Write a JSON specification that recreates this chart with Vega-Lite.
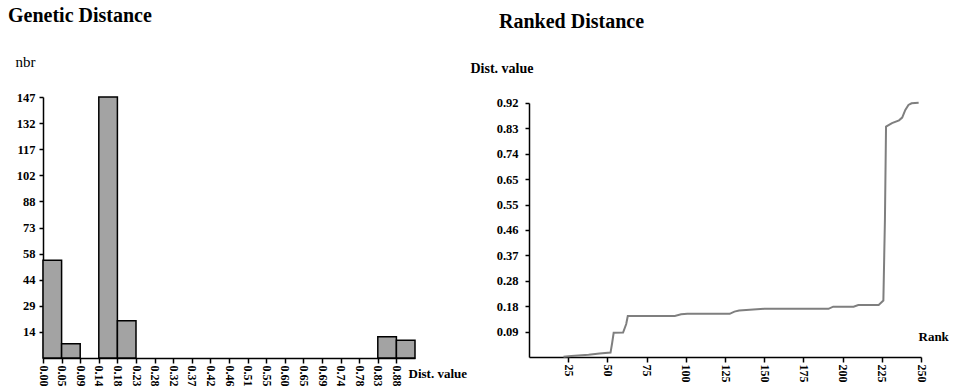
{
  "$schema": "https://vega.github.io/schema/vega-lite/v6.json",
  "padding": {"left": 8, "top": 5, "right": 0, "bottom": 0},
  "background": "white",
  "spacing": 3,
  "config": {
    "view": {"stroke": null},
    "font": "Liberation Serif",
    "axis": {
      "grid": false,
      "domainColor": "black",
      "domainWidth": 1.5,
      "tickColor": "black",
      "tickWidth": 1.5,
      "labelColor": "black",
      "labelFont": "Liberation Serif",
      "labelFontWeight": "bold",
      "labelFontSize": 12,
      "labelOverlap": false,
      "titleFont": "Liberation Serif",
      "titleColor": "black",
      "titleFontSize": 13,
      "titleFontWeight": "bold"
    },
    "title": {"font": "Liberation Serif", "fontSize": 20, "fontWeight": "bold", "color": "black", "anchor": "start", "frame": "group"}
  },
  "datasets": {
    "hist": [
      {"start": 0, "end": 0.04615, "count": 55},
      {"start": 0.04615, "end": 0.0923, "count": 8},
      {"start": 0.13845, "end": 0.1846, "count": 147},
      {"start": 0.1846, "end": 0.23075, "count": 21},
      {"start": 0.8307, "end": 0.87685, "count": 12},
      {"start": 0.87685, "end": 0.923, "count": 10}
    ],
    "ranked": [
      {"rank": 22, "value": 0.001},
      {"rank": 27, "value": 0.004},
      {"rank": 38, "value": 0.008},
      {"rank": 45, "value": 0.013},
      {"rank": 52, "value": 0.016},
      {"rank": 53, "value": 0.05},
      {"rank": 54, "value": 0.088},
      {"rank": 60, "value": 0.089},
      {"rank": 62, "value": 0.12},
      {"rank": 63, "value": 0.149},
      {"rank": 93, "value": 0.149},
      {"rank": 97, "value": 0.155},
      {"rank": 101, "value": 0.157},
      {"rank": 128, "value": 0.157},
      {"rank": 131, "value": 0.165},
      {"rank": 134, "value": 0.169},
      {"rank": 150, "value": 0.175},
      {"rank": 191, "value": 0.175},
      {"rank": 194, "value": 0.183},
      {"rank": 207, "value": 0.183},
      {"rank": 210, "value": 0.189},
      {"rank": 223, "value": 0.189},
      {"rank": 226, "value": 0.205},
      {"rank": 227, "value": 0.5},
      {"rank": 227.7, "value": 0.837},
      {"rank": 231.5, "value": 0.85},
      {"rank": 236, "value": 0.86},
      {"rank": 238, "value": 0.87},
      {"rank": 240, "value": 0.898},
      {"rank": 242, "value": 0.916},
      {"rank": 244, "value": 0.922},
      {"rank": 248.5, "value": 0.924}
    ]
  },
  "hconcat": [
    {
      "width": 372,
      "height": 261,
      "title": {"text": "Genetic Distance", "dx": -35, "offset": 28.5},
      "data": {"name": "hist"},
      "mark": {"type": "bar", "fill": "#a3a3a3", "stroke": "black", "strokeWidth": 1.5},
      "encoding": {
        "x": {
          "field": "start", "type": "quantitative",
          "scale": {"domain": [0, 0.923], "nice": false, "zero": false},
          "axis": {
            "values": [0, 0.04615, 0.0923, 0.13845, 0.1846, 0.23075, 0.2769, 0.32305, 0.3692, 0.41535, 0.4615, 0.50765, 0.5538, 0.59995, 0.6461, 0.69225, 0.7384, 0.78455, 0.8307, 0.87685],
            "format": ".2f",
            "labelAngle": 90,
            "tickSize": 5,
            "labelPadding": 2,
            "title": "Dist. value",
            "titleX": 365,
            "titleY": 15,
            "titleAlign": "left",
            "titleBaseline": "middle"
          }
        },
        "x2": {"field": "end"},
        "y": {
          "field": "count", "type": "quantitative",
          "scale": {"domain": [0, 147], "nice": false},
          "axis": {
            "values": [14.7, 29.4, 44.1, 58.8, 73.5, 88.2, 102.9, 117.6, 132.3, 147],
            "labelExpr": "floor(datum.value + 0.0001)",
            "labelFontSize": 12.5,
            "tickSize": 4,
            "labelPadding": 4,
            "title": "nbr",
            "titleAngle": 0,
            "titleAlign": "left",
            "titleBaseline": "alphabetic",
            "titleX": -28,
            "titleY": -31,
            "titleFontWeight": "normal",
            "titleFontSize": 15
          }
        },
        "y2": {"datum": 0}
      }
    },
    {
      "width": 392,
      "height": 260,
      "title": {"text": "Ranked Distance", "dx": -30, "offset": 29.5},
      "data": {"name": "ranked"},
      "mark": {"type": "line", "color": "#7f7f7f", "strokeWidth": 2},
      "encoding": {
        "x": {
          "field": "rank", "type": "quantitative",
          "scale": {"domain": [0, 250], "nice": false},
          "axis": {
            "values": [25, 50, 75, 100, 125, 150, 175, 200, 225, 250],
            "labelAngle": 90,
            "tickSize": 5,
            "labelPadding": 2,
            "title": "Rank",
            "titleX": 389,
            "titleY": -21,
            "titleAlign": "left",
            "titleBaseline": "middle"
          }
        },
        "y": {
          "field": "value", "type": "quantitative",
          "scale": {"domain": [0, 0.9448], "nice": false},
          "axis": {
            "values": [0.0923, 0.1846, 0.2769, 0.3692, 0.4615, 0.5538, 0.6461, 0.7384, 0.8307, 0.923],
            "format": ".2f",
            "domainDash": [254, 10],
            "labelFontSize": 12.5,
            "tickSize": 4,
            "labelPadding": 7,
            "title": "Dist. value",
            "titleAngle": 0,
            "titleAlign": "left",
            "titleBaseline": "middle",
            "titleX": -59,
            "titleY": -29,
            "titleFontSize": 14
          }
        }
      }
    }
  ]
}
